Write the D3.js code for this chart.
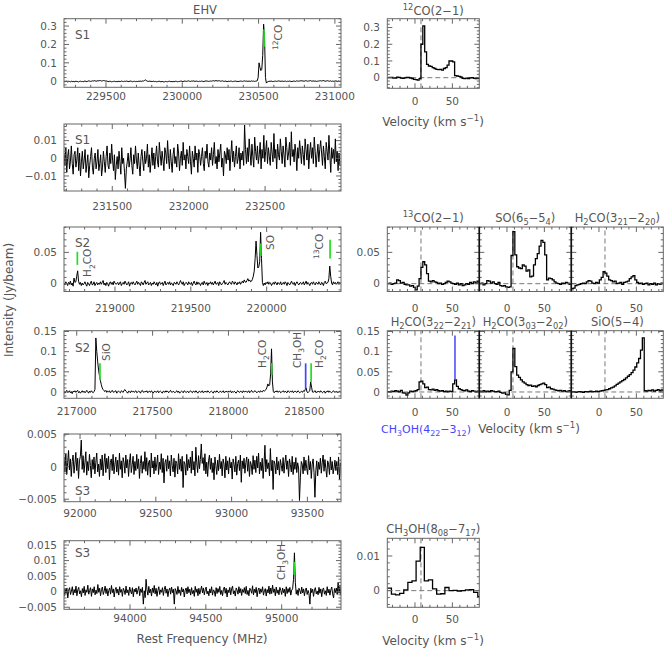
<!DOCTYPE html>
<html><head><meta charset="utf-8">
<script src="https://cdn.jsdelivr.net/npm/d3@7"></script>
<style>
body{margin:0;background:#fff;}
text{font-family:"DejaVu Sans",sans-serif;fill:#555;}
</style></head><body>
<script>
// ================= DATA =================
const chanMHz = 6;               // channel spacing of the wide spectra (MHz)
// S1, 12CO window (mJy/beam)
const s1aStart = 229225;
const s1aVals = [
-3,-1,-2,0,-4,-2,-1,-3,0,-2,-1,-3,-2,0,-1,-2,-4,-1,0,-2,
-1,-3,0,1,-1,-2,0,2,1,-1,0,2,1,3,2,0,1,3,2,4,
3,1,2,4,3,1,2,0,-1,-2,0,-1,-3,-2,-1,0,-2,-1,-3,-1,
0,-2,-1,1,-1,-2,0,-1,1,0,-2,-1,0,1,-1,-3,-1,0,-2,-1,
-2,0,-1,1,0,-1,2,1,4,8,2,0,-1,1,-1,0,-2,-1,0,-2,
-1,-3,-2,-1,0,-2,-3,-1,-2,-4,-3,-1,-2,-3,-1,0,-2,-1,-3,-2,
-1,-2,0,-1,-3,-2,-1,0,1,-1,-2,0,1,0,-1,1,2,0,-1,1,
0,2,1,-1,0,1,-1,-2,0,-1,1,0,-2,-1,0,2,1,0,-1,0,
1,0,2,3,1,2,4,2,1,3,2,0,1,2,0,-1,1,0,-2,-1,
0,-1,1,0,-2,-1,0,1,-1,0,-2,-1,0,1,0,-1,1,2,0,1,
0,-1,1,0,-1,2,0,1,-1,0,1,2,20,100,75,58,65,140,310,240,
20,-10,-4,-2,0,-1,1,0,-2,-1,0,1,-1,0,2,1,0,-1,1,0,
-1,0,1,-2,0,-1,1,0,-1,-2,0,1,0,-1,2,1,0,1,2,3,
1,2,0,1,3,2,0,1,2,4,1,0,2,1,0,1,-1,0,1,2,
3,1,2,4,2,1,0,2,3,1,0,2,-1,1,0,-1,2,1,0,-2,
1,-1,0];
// S1, line-free window (0.1 mJy/beam)
const s1bStart = 231184;
const s1bVals = [
30,-40,60,-80,10,50,-60,-20,70,-30,-90,20,40,-50,-10,60,-70,30,-100,-20,
40,-60,-10,50,-80,-30,20,-110,-40,10,60,-50,-90,0,30,-60,-20,50,-70,-30,
20,-100,-50,40,-20,-80,10,70,-40,-60,30,-30,80,-10,-70,20,-120,-40,10,-60,
40,-20,-90,60,-30,0,-80,-170,-60,-20,30,-50,-10,60,-40,-90,20,-30,70,-10,
-60,30,-40,-100,10,50,-20,-70,40,-30,0,80,-50,20,-80,-10,60,-40,30,-60,
10,70,-20,-50,90,20,-40,40,-10,-70,60,30,-30,100,0,-60,50,-20,-80,20,
60,-30,10,-50,80,30,-70,0,40,-40,90,-10,20,-60,50,10,-30,70,-20,-90,
40,0,-50,70,-10,30,-80,50,20,-40,10,60,-30,-70,40,0,80,-20,-50,30,
-10,60,-40,20,90,-30,10,-60,50,-20,30,80,-50,0,-100,40,20,-30,60,-10,
50,-70,20,100,-20,40,-50,10,70,-30,0,60,-60,30,-10,40,-40,188,50,-30,
60,-20,110,30,-40,80,10,-50,120,40,-10,70,-30,20,90,-60,50,0,130,-20,
40,100,-30,60,10,-40,90,30,-20,140,0,50,-60,80,20,-10,110,40,-30,70,
20,-50,120,60,-10,30,90,-40,150,10,50,-20,80,30,-70,60,0,100,40,-30,
70,20,-40,110,50,-10,80,-60,30,90,0,60,-30,120,40,-50,20,80,-20,50,
100,30,-40,70,10,-60,90,40,-10,130,20,-80,60,0,50,-30,110,-20,40,-70,
30,-40];
// S2, 218.7-220.5 GHz (0.1 mJy/beam)
const s2aStart = 218664;
const s2aVals = [
10,-20,30,0,-30,20,-10,40,-20,10,-40,90,20,30,120,205,40,-10,20,-30,
10,-20,0,30,-10,-40,20,0,-30,10,40,-20,-10,30,-30,0,20,-20,10,-10,
30,-10,20,50,-20,10,-30,20,0,-40,10,30,-10,20,-20,40,10,-10,0,20,
-20,10,30,-30,0,20,-10,40,10,-20,0,30,-40,10,20,-10,30,0,-20,10,
40,-10,20,0,-30,30,10,-20,20,50,-10,10,30,-20,0,20,-30,10,-10,30,
0,-20,20,-40,10,30,-10,0,20,-30,10,40,-20,0,20,-10,30,-20,10,0,
-30,20,10,-10,30,0,-20,20,50,10,-10,30,-30,0,20,10,-20,30,0,-10,
20,-30,10,40,0,-20,30,-10,20,0,-30,10,20,-20,40,0,-10,20,-30,10,
0,30,-10,20,-20,10,40,-10,0,20,-30,30,10,-20,0,20,50,-10,20,0,
-20,10,30,0,-10,40,20,-10,30,10,-20,20,0,30,-10,20,40,10,60,30,
20,50,80,40,60,30,40,70,120,200,400,680,450,250,270,350,820,400,20,-30,
10,-20,20,0,30,-10,20,10,-30,0,20,-10,30,10,-20,20,0,-10,30,-20,
0,20,-10,30,10,-30,20,0,-20,10,40,0,-10,20,-30,10,30,0,-20,10,
20,-10,0,30,-20,10,40,-10,20,0,-30,10,20,-10,30,0,-20,20,10,-10,
30,0,-20,20,10,-30,20,40,0,10,20,80,280,120,10,-20,30,0,20,-10,
10,30,-10,20,0];
// S2, 216.9-218.7 GHz (0.1 mJy/beam)
const s2bStart = 216916;
const s2bVals = [
20,-30,10,40,-10,0,30,-20,10,-40,20,0,30,-10,20,40,-20,10,-30,0,
30,-10,20,-20,0,40,10,-30,20,-10,30,0,-20,10,60,1340,1000,750,540,400,
280,180,100,60,30,10,40,-10,20,0,30,-20,10,40,0,-10,20,30,-30,10,
20,0,-20,30,10,-10,40,60,20,0,-30,20,10,-20,30,0,20,-10,10,30,
-20,0,20,10,-30,20,40,0,-10,20,0,30,-20,10,20,-10,30,0,-30,10,
20,-10,0,30,-20,10,20,0,-30,20,10,-10,30,0,20,-20,10,40,0,-10,
20,0,-20,10,30,-10,20,-30,0,20,10,-20,30,10,-10,0,20,-20,10,30,
0,-20,20,10,-10,30,0,-30,10,20,-10,0,30,-20,10,0,20,-10,30,0,
-20,10,20,0,-30,20,10,-10,30,0,-20,10,20,-10,0,30,-20,10,0,20,
-10,20,0,30,-20,10,-10,20,0,-30,10,30,0,-10,20,10,-20,30,0,10,
20,-10,0,30,-20,10,40,0,-10,20,30,0,-20,10,20,-10,30,10,0,40,
20,40,60,120,200,150,180,450,1070,250,10,-20,20,0,30,-10,10,20,-20,0,
10,30,-10,20,0,-20,30,10,-10,20,0,30,-20,10,20,0,-10,30,10,-20,
0,20,-10,30,10,60,100,0,-20,10,30,250,120,0,-10,20,30,-20,10,0,
20,-10,30,0,-20,10,20,-30,10,0,30,-10,20,0,-20,10,30,0,-10,20,
0,-20,10,20,-10];
// S3, 91.9-93.7 GHz (0.01 mJy/beam)
const s3aStart = 91894;
const s3aVals = [
150,-80,200,-120,60,250,-50,120,-150,80,180,-100,40,220,-60,130,-180,90,160,410,
-40,170,-90,60,230,-130,80,-60,190,20,-170,110,-40,150,-110,70,210,-80,40,-150,
120,-50,180,-140,60,200,-90,130,-30,160,-200,70,120,-60,190,-110,40,150,-80,100,
-130,210,-40,90,-170,140,60,-100,180,-20,110,-150,70,200,-90,30,160,-120,80,-60,
190,-30,120,-180,50,170,-100,80,-40,230,-70,140,-130,60,100,-160,210,-20,90,-110,
150,-60,40,180,-120,70,-40,200,-90,130,-250,60,110,-70,170,-30,90,-140,180,20,
-80,130,-160,90,50,-110,200,-40,120,-70,160,-320,80,40,-130,190,-60,110,-20,150,
-100,240,-50,80,-140,300,60,-90,170,-30,110,350,50,140,-60,200,-110,70,-150,90,
180,-40,130,-90,60,-200,150,20,-120,100,-60,190,-30,80,-140,120,40,-170,160,-50,
90,-110,140,-20,70,-190,120,40,-80,160,-130,50,100,-60,180,-240,90,-30,130,-100,
60,150,-70,120,-150,80,30,-120,170,-40,100,-90,160,-20,210,-110,70,-60,130,-180,
40,330,-80,110,-30,60,-140,280,-60,100,-350,90,40,-110,150,-50,80,-130,110,20,
-70,140,-100,60,180,-40,90,-150,120,30,-80,160,-120,70,-40,140,-90,60,-20,-520,
-160,80,40,-110,150,-60,100,-30,-120,170,-50,80,-180,40,120,-90,-470,-60,90,-140,
70,-40,130,-100,60,180,-70,110,-30,-160,90,40,-120,150,-50,80,-110,-20,100,-60,
80,-120,150,-200,60];
// S3, 93.6-95.4 GHz (0.01 mJy/beam)
const s3bStart = 93566;
const s3bVals = [
-150,80,-60,120,-200,50,130,-90,20,160,-110,70,-40,180,-130,60,140,-70,30,-160,
100,-40,170,-120,60,-20,210,-80,40,130,-150,90,-30,160,-100,50,-60,230,-20,110,
-130,70,150,-90,20,180,-60,100,-140,40,120,-80,200,-30,90,-170,60,140,-50,80,
-110,160,-20,70,-150,110,40,-90,180,-40,60,-120,150,20,-70,130,-160,80,-10,120,
-80,50,170,-130,90,-20,140,-400,30,-190,400,60,-110,170,-40,80,-140,120,-30,200,
-70,110,-150,40,160,-90,60,-20,130,-120,70,180,-50,90,-160,40,120,-80,150,-30,
80,-400,100,30,-90,170,-50,60,-120,140,-10,90,-170,50,120,-70,160,-30,80,-110,
130,-60,40,-150,170,-20,90,-130,110,-80,50,180,-40,120,-100,60,150,-70,20,-130,
90,-40,160,-110,60,20,-150,130,-60,100,-20,170,-90,40,-130,80,150,-50,110,-170,
60,-30,140,-100,90,180,-70,30,-140,120,50,-80,160,-40,100,-120,70,-20,130,-60,
170,-90,40,-130,110,60,-50,190,-100,80,-30,140,-160,50,120,-70,90,-20,160,-110,
30,100,-140,70,-40,180,-80,120,-60,210,-20,90,-130,150,-50,60,-100,140,40,-90,
120,-30,80,-150,160,-60,100,-20,140,-110,50,90,400,1250,300,-80,60,-120,110,30,
-70,150,-40,90,-130,60,120,-90,40,-60,-400,110,-30,80,-150,60,130,-70,20,-100,
140,-50,90,-160,70,120,-80,30,-120,160,-40,80,-110,60,150,-70,-200,100,-30,120,
-90,300,-50,170,-120];

// velocity spectra, 2.5 km/s channels starting at -37 km/s (mJy/beam)
const velStart = -37, velStep = 2.5;
const co12 = [0,2,1,-3,-2,3,2,-2,-4,-1,2,1,-2,-5,-10,-12,-14,-6,200,310,155,80,70,68,60,55,50,48,50,45,55,60,75,100,100,95,12,10,8,4,-4,-6,-3,-5,-1,0,-4,-6,-3,-5];
const co13 = [0,1,-1,0,1,6,5,1,2,-1,-2,-2,-4,-3,-6,-10,-4,8,26,35,30,16,4,3,5,3,2,0,1,-1,0,2,4,3,1,0,-1,1,-2,0,-3,-2,0,-1,2,0,3,1,4,2];
const so65 = [0,1,-2,0,5,4,1,3,0,-1,2,-3,-4,-3,-5,-6,-5,45,83,46,27,25,24,30,28,20,22,11,12,30,40,48,60,69,66,46,6,9,8,6,3,1,0,-1,1,0,2,1,-1,0];
const h2co321 = [-8,-7,-3,-2,-1,0,1,0,3,5,4,1,0,2,1,6,10,19,17,12,6,5,3,4,0,1,2,-1,2,3,4,8,11,13,6,2,0,1,-1,0,1,-2,0,-1,1,-2,0,-1,1,0];
const h2co322 = [1,0,2,1,3,2,0,4,-2,-3,-8,-2,2,1,2,3,6,25,27,20,11,12,6,5,7,4,6,3,2,3,1,2,0,2,1,20,30,14,8,6,4,3,5,2,1,3,2,0,2,1];
const h2co303 = [2,1,3,0,2,1,3,2,0,1,2,-1,-3,-2,-6,-7,4,50,108,63,42,36,30,25,22,18,16,17,14,15,13,16,18,20,22,18,11,12,8,7,5,4,3,4,2,3,1,2,3,2];
const sio54 = [0,1,-1,0,1,0,-1,1,0,1,2,0,1,2,1,2,3,4,5,6,8,10,12,15,19,22,25,28,31,35,39,43,48,54,62,72,83,104,134,3,2,4,3,5,2,4,6,3,5,4];
// CH3OH 8_08-7_17, 5.5 km/s channels from -37 km/s (0.1 mJy/beam)
const ch3ohStep = 5.5;
const ch3oh808 = [7,-10,-12,-8,2,24,28,85,125,28,31,5,-10,-9,9,0,1,-1,0,2,3,-5,-17];

const vsys = 8;            // dashed systemic velocity (km/s)
const velDomain = [-37, 86];
const velTicks = [0, 50];

// tick labels
const s1aXTicks=[229500,230000,230500,231000], s1aYTicks=[0,0.1,0.2,0.3];
const s1bXTicks=[231500,232000,232500],        s1bYTicks=[-0.01,0,0.01];
const s2aXTicks=[219000,219500,220000],        s2aYTicks=[0,0.05];
const s2bXTicks=[217000,217500,218000,218500], s2bYTicks=[0,0.05,0.1,0.15];
const s3aXTicks=[92000,92500,93000,93500],     s3aYTicks=[-0.005,0,0.005];
const s3bXTicks=[94000,94500,95000],           s3bYTicks=[-0.005,0,0.005,0.01,0.015];

// line identifications on the wide spectra: [freq MHz, from, to]
const markS1a = [[230536,0.188,0.282]];
const markS2a = [[218752,0.030,0.051],[219962,0.044,0.064],[220418,0.040,0.070]];
const markS2b = [[217153,0.030,0.071],[218285,0.042,0.071],[218509,0.009,0.071],[218545,0.025,0.071]];
const markS3b = [[95082.5,0.0054,0.0096]];
const markNames = {
  s1a:["^{12}CO"], s2a:["H_{2}CO","SO","^{13}CO"],
  s2b:["SiO","H_{2}CO","CH_{3}OH","H_{2}CO"], s3b:["CH_{3}OH"]
};
const markKinds = {s1a:["g"], s2a:["g","g","g"], s2b:["g","g","b","g"], s3b:["g"]};
const blueVel = 53.5, blueFrom = 0.03, blueTo = 0.14;

// ================= STYLE / LAYOUT =================
const FRAME="#666", TXT="#555", GREEN="#22dd22", BLUE="#4444ff", DASHC="#777";
const svg = d3.select("body").append("svg").attr("width",664).attr("height",649);
let clipId = 0;

function tickVals(dom, step){
  const a=Math.ceil(Math.min(dom[0],dom[1])/step-1e-9), b=Math.floor(Math.max(dom[0],dom[1])/step+1e-9);
  return d3.range(a,b+1).map(k=>k*step);
}
function isMajor(v,m){const r=v/m;return Math.abs(r-Math.round(r))<1e-6;}
function fmt(v){ return String(+v.toFixed(6)).replace("-","\u2212"); }

function rich(t, str, size){
  const re=/([_^])\{([^}]*)\}|([^_^]+)/g; let m, cur=0;
  while((m=re.exec(str))){
    let target, txt, fs=size;
    if(m[3]){target=0;txt=m[3];}
    else {fs=size*0.72; txt=m[2]; target = m[1]==="_" ? size*0.3 : -size*0.42;}
    t.append("tspan").attr("dy",target-cur).style("font-size",fs+"px").text(txt);
    cur=target;
  }
  return t;
}

function frame(g, x, y, o){
  const [x0,x1]=x.range(), [yb,yt]=y.range();
  let d="";
  tickVals(x.domain(),o.xMinor).forEach(v=>{
    const L=isMajor(v,o.xMajor)?5:2.5, p=x(v);
    if(p<x0-0.1||p>x1+0.1) return;
    d+=`M${p},${yb}v${-L}M${p},${yt}v${L}`;
  });
  tickVals(y.domain(),o.yMinor).forEach(v=>{
    const L=isMajor(v,o.yMajor)?5:2.5, p=y(v);
    if(p>yb+0.1||p<yt-0.1) return;
    d+=`M${x0},${p}h${L}M${x1},${p}h${-L}`;
  });
  g.append("path").attr("d",d).attr("stroke",FRAME).attr("fill","none").attr("stroke-width",1);
  g.append("rect").attr("x",x0).attr("y",yt).attr("width",x1-x0).attr("height",yb-yt)
    .attr("fill","none").attr("stroke",FRAME).attr("stroke-width",1);
}
function clip(g,x,y){
  const id="c"+(clipId++); const [x0,x1]=x.range(), [yb,yt]=y.range();
  svg.append("clipPath").attr("id",id).append("rect").attr("x",x0).attr("y",yt).attr("width",x1-x0).attr("height",yb-yt);
  return g.append("g").attr("clip-path",`url(#${id})`);
}

// ================= LEFT (wide) PANELS =================
const LX=[64,341];
const wide = [
 {key:"s1a",vals:s1aVals,unit:1e-3,f0:s1aStart,xdom:[229225,231040],yr:[87.3,18.7],ydom:[-0.033,0.34],yMaj:0.1,yMin:0.02,xt:s1aXTicks,yt:s1aYTicks,xLab:100,tag:"S1",tagY:39,marks:markS1a,
  lab:[{dx:18,y:50}]},
 {key:"s1b",vals:s1bVals,unit:1e-4,f0:s1bStart,xdom:[231184,232997],yr:[191,124],ydom:[-0.0185,0.0194],yMaj:0.01,yMin:0.002,xt:s1bXTicks,yt:s1bYTicks,xLab:210,tag:"S1",tagY:144,marks:[],lab:[]},
 {key:"s2a",vals:s2aVals,unit:1e-4,f0:s2aStart,xdom:[218664,220490],yr:[291.5,227],ydom:[-0.0125,0.0905],yMaj:0.05,yMin:0.01,xt:s2aXTicks,yt:s2aYTicks,xLab:312,tag:"S2",tagY:247,marks:markS2a,
  lab:[{dx:14,y:277},{dx:13,y:250},{dx:-7,y:259}]},
 {key:"s2b",vals:s2bVals,unit:1e-4,f0:s2bStart,xdom:[216916,218742],yr:[398.3,330.7],ydom:[-0.0157,0.152],yMaj:0.05,yMin:0.01,xt:s2bXTicks,yt:s2bYTicks,xLab:415,tag:"S2",tagY:352,marks:markS2b,
  lab:[{dx:10,y:361},{dx:-5.5,y:368},{dx:-4.5,y:368},{dx:11.5,y:368}]},
 {key:"s3a",vals:s3aVals,unit:1e-5,f0:s3aStart,xdom:[91894,93722],yr:[501.7,434],ydom:[-0.00538,0.00503],yMaj:0.005,yMin:0.001,xt:s3aXTicks,yt:s3aYTicks,xLab:517,tag:"S3",tagY:495,marks:[],lab:[]},
 {key:"s3b",vals:s3bVals,unit:1e-5,f0:s3bStart,xdom:[93565,95391],yr:[609.3,540.7],ydom:[-0.00566,0.0164],yMaj:0.005,yMin:0.001,xt:s3bXTicks,yt:s3bYTicks,xLab:622,tag:"S3",tagY:557,marks:markS3b,
  lab:[{dx:-9,y:580}]}
];

wide.forEach(p=>{
  const g=svg.append("g");
  const x=d3.scaleLinear().domain(p.xdom).range(LX);
  const y=d3.scaleLinear().domain(p.ydom).range(p.yr);
  const cg=clip(g,x,y);
  const pts=p.vals.map((v,i)=>[p.f0+i*chanMHz, v*p.unit]);
  cg.append("path").datum(pts).attr("d",d3.line().x(d=>x(d[0])).y(d=>y(d[1])))
    .attr("fill","none").attr("stroke","#000").attr("stroke-width",1);
  p.marks.forEach((m,i)=>{
    const col = markKinds[p.key][i]==="b"?BLUE:GREEN;
    g.append("line").attr("x1",x(m[0])).attr("x2",x(m[0])).attr("y1",y(m[1])).attr("y2",y(m[2]))
      .attr("stroke",col).attr("stroke-width",1.7);
    const L=p.lab[i], tx=x(m[0])+L.dx;
    rich(g.append("text").attr("transform",`translate(${tx},${L.y}) rotate(-90)`).attr("x",0).attr("y",0)
      .style("font-size","10.5px"), markNames[p.key][i], 10.5);
  });
  frame(g,x,y,{xMajor:500,xMinor:100,yMajor:p.yMaj,yMinor:p.yMin});
  p.xt.forEach(v=>g.append("text").attr("x",x(v)).attr("y",p.xLab).attr("text-anchor","middle").style("font-size","10.5px").text(fmt(v)));
  p.yt.forEach(v=>g.append("text").attr("x",57).attr("y",y(v)+3.8).attr("text-anchor","end").style("font-size","10.5px").text(fmt(v)));
  g.append("text").attr("x",75).attr("y",p.tagY).style("font-size","12px").text(p.tag);
});

svg.append("text").attr("x",205).attr("y",14).attr("text-anchor","middle").style("font-size","11.5px").text("EHV");
svg.append("text").attr("x",202).attr("y",643).attr("text-anchor","middle").style("font-size","12px").text("Rest Frequency (MHz)");
svg.append("text").attr("transform","translate(13,300) rotate(-90)").attr("text-anchor","middle").style("font-size","12px").text("Intensity (Jy/beam)");

// ================= RIGHT (velocity) PANELS =================
const cols=[[387.3,479.3],[479.3,571.3],[571.3,663.3]];
const rows={
 r1:{yr:[88.3,18.7],ydom:[-0.0635,0.353],yMaj:0.1,yMin:0.02,yt:[0,0.1,0.2,0.3],titleY:15,xLab:105},
 r3:{yr:[291.5,227],ydom:[-0.0125,0.0905],yMaj:0.05,yMin:0.01,yt:[0,0.05],titleY:222,xLab:312},
 r4:{yr:[398.3,330.7],ydom:[-0.0157,0.152],yMaj:0.05,yMin:0.01,yt:[0,0.05,0.1,0.15],titleY:326,xLab:415.5},
 r6:{yr:[607.3,538.3],ydom:[-0.00481,0.0151],yMaj:0.01,yMin:0.002,yt:[0,0.01],titleY:533,xLab:623}
};
const small=[
 {row:"r1",col:0,title:"^{12}CO(2\u22121)",vals:co12,unit:1e-3,dv:velStep},
 {row:"r3",col:0,title:"^{13}CO(2\u22121)",vals:co13,unit:1e-3,dv:velStep},
 {row:"r3",col:1,title:"SO(6_{5}\u22125_{4})",vals:so65,unit:1e-3,dv:velStep},
 {row:"r3",col:2,title:"H_{2}CO(3_{21}\u22122_{20})",vals:h2co321,unit:1e-3,dv:velStep},
 {row:"r4",col:0,title:"H_{2}CO(3_{22}\u22122_{21})",vals:h2co322,unit:1e-3,dv:velStep,blue:true},
 {row:"r4",col:1,title:"H_{2}CO(3_{03}\u22122_{02})",vals:h2co303,unit:1e-3,dv:velStep},
 {row:"r4",col:2,title:"SiO(5\u22124)",vals:sio54,unit:1e-3,dv:velStep},
 {row:"r6",col:0,title:"CH_{3}OH(8_{08}\u22127_{17})",vals:ch3oh808,unit:1e-4,dv:ch3ohStep}
];
small.forEach(p=>{
  const R=rows[p.row], g=svg.append("g");
  const x=d3.scaleLinear().domain(velDomain).range(cols[p.col]);
  const y=d3.scaleLinear().domain(R.ydom).range(R.yr);
  const cg=clip(g,x,y);
  const [x0,x1]=x.range(), [yb,yt]=y.range();
  cg.append("line").attr("x1",x0).attr("x2",x1).attr("y1",y(0)).attr("y2",y(0)).attr("stroke",DASHC).attr("stroke-dasharray","5,3");
  cg.append("line").attr("x1",x(vsys)).attr("x2",x(vsys)).attr("y1",yb).attr("y2",yt).attr("stroke",DASHC).attr("stroke-dasharray","5,3");
  const pts=p.vals.map((v,i)=>[velStart+i*p.dv, v*p.unit]);
  pts.push([velStart+p.vals.length*p.dv, p.vals[p.vals.length-1]*p.unit]);
  cg.append("path").datum(pts).attr("d",d3.line().curve(d3.curveStepAfter).x(d=>x(d[0])).y(d=>y(d[1])))
    .attr("fill","none").attr("stroke","#000").attr("stroke-width",1.3);
  if(p.blue){
    g.append("line").attr("x1",x(blueVel)).attr("x2",x(blueVel)).attr("y1",y(blueFrom)).attr("y2",y(blueTo))
      .attr("stroke",BLUE).attr("stroke-width",1.5);
  }
  frame(g,x,y,{xMajor:50,xMinor:10,yMajor:R.yMaj,yMinor:R.yMin});
  if(p.col>0){
    g.append("line").attr("x1",x0).attr("x2",x0).attr("y1",yb).attr("y2",yt).attr("stroke","#111").attr("stroke-width",1.6);
  }
  velTicks.forEach(v=>g.append("text").attr("x",x(v)).attr("y",R.xLab).attr("text-anchor","middle").style("font-size","10.5px").text(fmt(v)));
  if(p.col===0) R.yt.forEach(v=>g.append("text").attr("x",380).attr("y",y(v)+3.8).attr("text-anchor","end").style("font-size","10.5px").text(fmt(v)));
  rich(g.append("text").attr("x",(x0+x1)/2).attr("y",R.titleY).attr("text-anchor","middle").style("font-size","11.5px"),p.title,11.5);
});

function velLabel(cx,yy){
  rich(svg.append("text").attr("x",cx).attr("y",yy).attr("text-anchor","middle").style("font-size","12px"),"Velocity (km s^{\u22121})",12);
}
velLabel(433,126); velLabel(529,433); velLabel(433,645);
rich(svg.append("text").attr("x",426).attr("y",433).attr("text-anchor","middle").style("font-size","11px").style("fill",BLUE),"CH_{3}OH(4_{22}\u22123_{12})",11)
  .selectAll("tspan").style("fill",BLUE);
</script></body></html>
